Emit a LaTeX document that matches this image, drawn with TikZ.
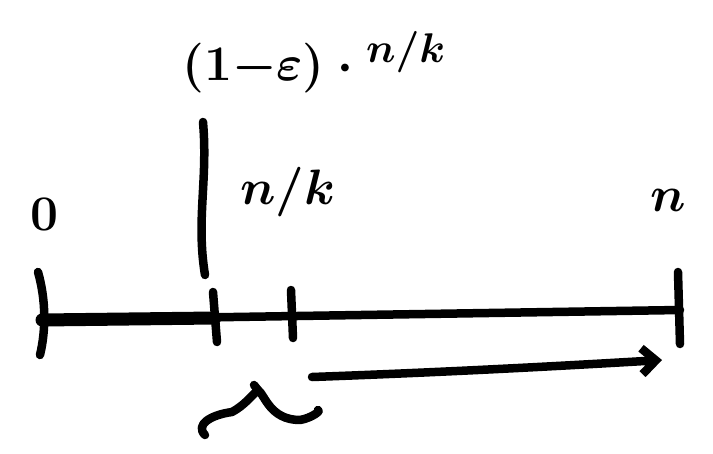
\documentclass[tikz,border=0pt]{standalone}
\usetikzlibrary{arrows.meta}
\begin{document}
\begin{tikzpicture}[x=1pt,y=-1pt,
  ink/.style={line width=8.5pt,line cap=round,line join=round,black},
  lbl/.style={font=\Huge\boldmath,scale=2.0,inner sep=0pt}]
\useasboundingbox (0,0) rectangle (713,453);
% coordinates
\coordinate (L) at (42,320);
\coordinate (A) at (215,318);
\coordinate (B) at (293,316);
\coordinate (R) at (680,310);
% main line
\draw[ink] (L) -- (R);
\draw[ink,line width=13pt] (L) -- (A);
% ticks
\draw[ink] (38,272) .. controls (46,300) and (46,330) .. (40,355);
\draw[ink] (A) ++(-2,-26) -- ++(4,50);
\draw[ink] (B) ++(-2,-26) -- ++(2,48);
\draw[ink] (R) ++(-2,-38) -- ++(2,72);
% vertical marker
\coordinate (V1) at (203,122);
\coordinate (V2) at (205,275);
\draw[ink] (V1) .. controls (208,180) and (196,220) .. (V2);
% labels
\node[lbl] (zero) at (44,214) {$0$};
\node[lbl] (n) at (668,200) {$n$};
\node[lbl] (nk) at (288,192) {$n/k$};
\node[lbl,anchor=west] (eps) at (182,62) {$(1{-}\varepsilon)\mathbin{\cdot}{}^{n/k}$};
% arrow
\coordinate (S) at (312,377);
\coordinate (E) at (662,360);
\draw[ink,-{Straight Barb[length=14pt,width=26pt,line width=8.5pt]}] (S) .. controls (450,372) and (560,366) .. (E);
% brace squiggle
\coordinate (W1) at (205,435);
\coordinate (W2) at (258,390);
\coordinate (W3) at (318,410);
\draw[ink] (W1) .. controls (195,425) and (210,415) .. (232,412)
  .. controls (245,405) and (252,395) .. (W2)
  .. controls (265,395) and (270,420) .. (300,420)
  .. controls (312,418) and (322,410) .. (W3);
\draw[ink] (W2) -- (254,385);
\end{tikzpicture}
\end{document}
